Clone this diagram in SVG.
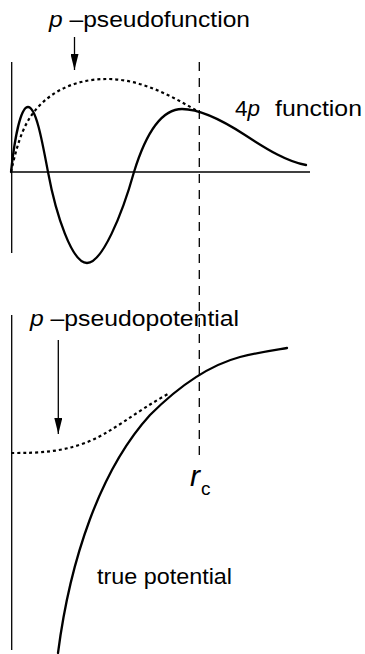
<svg xmlns="http://www.w3.org/2000/svg" width="365" height="654" viewBox="0 0 365 654">
<defs>
<marker id="ah" viewBox="0 0 16 8" refX="16" refY="4" markerWidth="16" markerHeight="8" markerUnits="userSpaceOnUse" orient="auto">
<path d="M0,0 L16,4 L0,8 Z" fill="#000"/>
</marker>
<style>
.ax{stroke:#000;stroke-width:1.3;fill:none}
.dash{stroke:#000;stroke-width:1.3;fill:none;stroke-dasharray:9 7}
.sol{stroke:#000;stroke-width:2.3;fill:none;stroke-linecap:round}
.dot{stroke:#000;stroke-width:2.2;fill:none;stroke-dasharray:3 3}
.arr{stroke:#000;stroke-width:1.3;fill:none}
.t{font-family:"Liberation Sans",Arial,Helvetica,sans-serif;font-size:22.5px;fill:#000}
.i{font-style:italic}
</style>
</defs>
<g id="axes">
<line class="ax" x1="11.7" y1="62" x2="11.7" y2="253"/>
<line class="ax" x1="11" y1="172" x2="310" y2="172"/>
<line class="ax" x1="11.7" y1="315" x2="11.7" y2="650"/>
<line class="dash" x1="199.3" y1="62" x2="199.3" y2="457"/>
</g>
<g id="curves">
<path id="fn4p" class="sol" d="M11,172 C15,135 21,107 28,107 C36,107 42,140 48,172 C56,215 72,263 87,263 C102,263 122,215 134,172 C146,133 162,109 182,109 C200,109 222,120 245,135 C268,150 288,162 306,165"/>
<path id="pseudofn" class="dot" d="M11,172 C18,140 25,120 40,105 C60,85 85,79 107,79 C140,79 170,95 199,112"/>
<path id="truepot" class="sol" d="M58,653 C70,560 100,470 150,415 C180,385 210,365 240,357 C260,352 275,350 287,348"/>
<path id="pseudopot" class="dot" d="M11,453 C40,453 60,452 85,443 C110,434 135,412 168,394"/>
</g>
<g id="connectors">
<line class="arr" x1="74.5" y1="37" x2="74.5" y2="70" marker-end="url(#ah)"/>
<line class="arr" x1="58.3" y1="340" x2="58.3" y2="434" marker-end="url(#ah)"/>
</g>
<g id="label-pseudofunction">
<text class="t" x="49" y="27" textLength="201" lengthAdjust="spacingAndGlyphs"><tspan class="i">p</tspan> –pseudofunction</text>
</g>
<g id="label-4p">
<text class="t" x="235" y="116"><tspan>4</tspan><tspan class="i">p</tspan></text>
<text class="t" x="275" y="116" textLength="87" lengthAdjust="spacingAndGlyphs">function</text>
</g>
<g id="label-pseudopotential">
<text class="t" x="30" y="326" textLength="209" lengthAdjust="spacingAndGlyphs"><tspan class="i">p</tspan> –pseudopotential</text>
</g>
<g id="label-rc">
<text class="t i" x="190" y="486" style="font-size:30px">r</text>
<text class="t" x="201" y="495" style="font-size:19px">c</text>
</g>
<g id="label-true">
<text class="t" x="97" y="584" textLength="135" lengthAdjust="spacingAndGlyphs">true potential</text>
</g>
</svg>
